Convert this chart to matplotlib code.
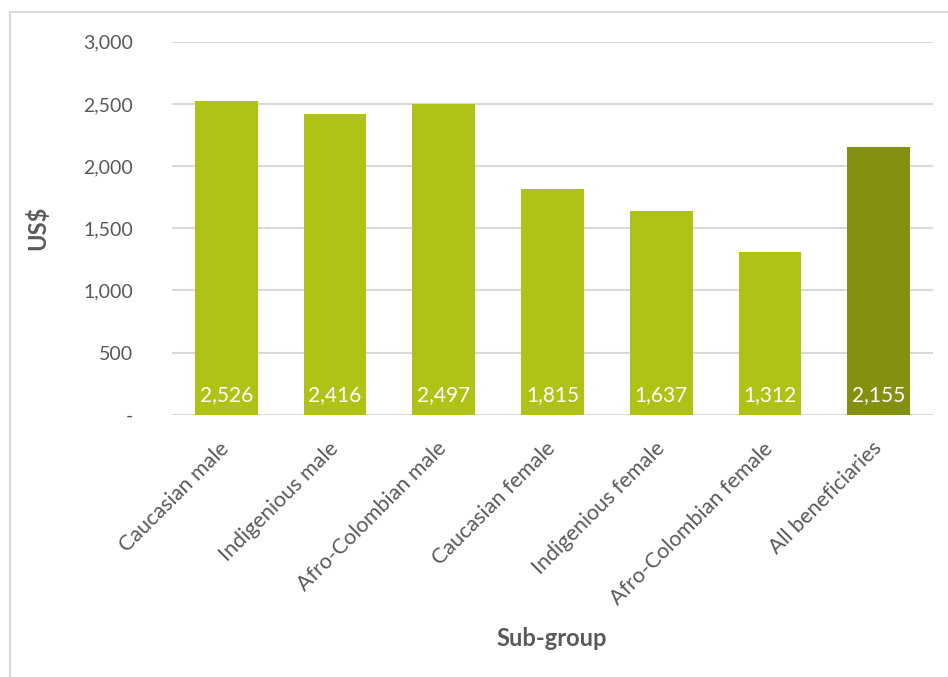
import matplotlib.pyplot as plt
from matplotlib.lines import Line2D
from matplotlib.ticker import FuncFormatter

subgrupos = ["Caucasian male", "Indigenious male", "Afro-Colombian male",
             "Caucasian female", "Indigenious female", "Afro-Colombian female",
             "All beneficiaries"]
valores = [2526, 2416, 2497, 1815, 1637, 1312, 2155]
cores = ["#B0C216"] * 6 + ["#84900F"]

plt.rcParams['font.family'] = ['Lato', 'DejaVu Sans']
cinza = "#595959"

fig = plt.figure(figsize=(9.48, 6.77), dpi=100)
ax = fig.add_axes([172 / 948, 1 - 414.7 / 677, (933 - 172) / 948, (414.7 - 41.8) / 677])

# moldura do gráfico (só esquerda e topo aparecem)
fig.add_artist(Line2D([10 / 948, 10 / 948], [0, 1 - 12 / 677], color="#d9d9d9", lw=1.5))
fig.add_artist(Line2D([10 / 948, 1], [1 - 12 / 677, 1 - 12 / 677], color="#d9d9d9", lw=1.5))

x = list(range(len(subgrupos)))
barras = ax.bar(x, valores, width=0.576, color=cores, zorder=3)

for xi, v in zip(x, valores):
    ax.annotate(f"{v:,}", (xi, 0), xytext=(0, 7), textcoords="offset points",
                ha="center", va="bottom", color="white", fontsize=15, zorder=4)

ax.set_xlim(-0.5, len(subgrupos) - 0.5)
ax.set_ylim(0, 3000)
ax.set_yticks(range(0, 3001, 500))
ax.yaxis.set_major_formatter(FuncFormatter(lambda v, p: "-" if v == 0 else f"{int(v):,}"))
ax.grid(axis="y", color="#d9d9d9", lw=1.5, zorder=0)
for s in ax.spines.values():
    s.set_visible(False)
ax.tick_params(axis="y", length=0, pad=28, labelsize=14, labelcolor=cinza)
ax.tick_params(axis="x", length=0, pad=22, labelsize=15.5, labelcolor=cinza)
ax.set_xticks(x)
ax.set_xticklabels(subgrupos, rotation=45, ha="right", va="center", rotation_mode="anchor")

fig.text(37 / 948, 1 - 228 / 677, "US$", rotation=90, ha="center", va="center",
         fontsize=17, fontweight="bold", color=cinza)
fig.text(552 / 948, 1 - 638 / 677, "Sub-group", ha="center", va="center",
         fontsize=17, fontweight="bold", color=cinza)

fig.savefig("out.png", dpi=100)
